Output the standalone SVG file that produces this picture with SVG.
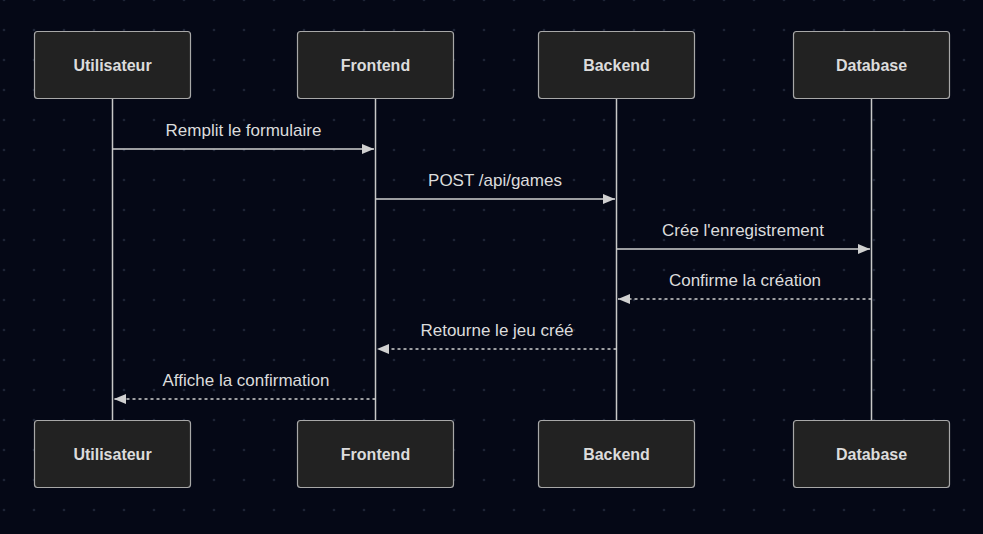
<svg xmlns="http://www.w3.org/2000/svg" width="983" height="534" viewBox="0 0 983 534">
<defs>
<pattern id="dots" x="0" y="0" width="30" height="30" patternUnits="userSpaceOnUse">
<circle cx="4" cy="0" r="1.3" fill="#1e2436"/>
<circle cx="4" cy="30" r="1.3" fill="#1e2436"/>
</pattern>
<marker id="arr" viewBox="0 0 12 10" refX="12" refY="5" markerWidth="12" markerHeight="10" markerUnits="userSpaceOnUse" orient="auto">
<path d="M0,0 L12,5 L0,10 z" fill="#d0d0d0"/>
</marker>
<style>
.actor rect{fill:#222222;stroke:#a8a8a8;stroke-width:1.2}
.actor text{font-family:"Liberation Sans",Arial,sans-serif;font-size:16px;font-weight:bold;fill:#dcdcdc;text-anchor:middle;dominant-baseline:central}
.life{stroke:#c8c8c8;stroke-width:1.5}
.msg{stroke:#d0d0d0;stroke-width:1.5;fill:none;marker-end:url(#arr)}
.dash{stroke-dasharray:3,3}
.lbl{font-family:"Liberation Sans",Arial,sans-serif;font-size:17px;fill:#dcdcdc;text-anchor:middle}
</style>
</defs>
<rect width="983" height="534" fill="#050816"/>
<rect width="983" height="534" fill="url(#dots)"/>
<g id="lifelines">
<line class="life" x1="112.5" y1="99" x2="112.5" y2="420"/>
<line class="life" x1="375.5" y1="99" x2="375.5" y2="420"/>
<line class="life" x1="616.5" y1="99" x2="616.5" y2="420"/>
<line class="life" x1="871.5" y1="99" x2="871.5" y2="420"/>
</g>
<g id="actor-utilisateur-top" class="actor"><rect x="34.5" y="31.5" width="156" height="67" rx="3"/><text x="112.5" y="65">Utilisateur</text></g>
<g id="actor-frontend-top" class="actor"><rect x="297.5" y="31.5" width="156" height="67" rx="3"/><text x="375.5" y="65">Frontend</text></g>
<g id="actor-backend-top" class="actor"><rect x="538.5" y="31.5" width="156" height="67" rx="3"/><text x="616.5" y="65">Backend</text></g>
<g id="actor-database-top" class="actor"><rect x="793.5" y="31.5" width="156" height="67" rx="3"/><text x="871.5" y="65">Database</text></g>
<g id="actor-utilisateur-bottom" class="actor"><rect x="34.5" y="420.5" width="156" height="67" rx="3"/><text x="112.5" y="454">Utilisateur</text></g>
<g id="actor-frontend-bottom" class="actor"><rect x="297.5" y="420.5" width="156" height="67" rx="3"/><text x="375.5" y="454">Frontend</text></g>
<g id="actor-backend-bottom" class="actor"><rect x="538.5" y="420.5" width="156" height="67" rx="3"/><text x="616.5" y="454">Backend</text></g>
<g id="actor-database-bottom" class="actor"><rect x="793.5" y="420.5" width="156" height="67" rx="3"/><text x="871.5" y="454">Database</text></g>
<g id="connectors">
<line class="msg" x1="112.5" y1="149" x2="374" y2="149"/>
<text class="lbl" x="243.5" y="136">Remplit le formulaire</text>
<line class="msg" x1="375.5" y1="199" x2="615" y2="199"/>
<text class="lbl" x="495" y="186">POST /api/games</text>
<line class="msg" x1="616.5" y1="249" x2="870" y2="249"/>
<text class="lbl" x="743" y="236">Crée l'enregistrement</text>
<line class="msg dash" x1="871.5" y1="299" x2="618" y2="299"/>
<text class="lbl" x="745" y="286">Confirme la création</text>
<line class="msg dash" x1="616.5" y1="349" x2="377" y2="349"/>
<text class="lbl" x="497" y="336">Retourne le jeu créé</text>
<line class="msg dash" x1="375.5" y1="399" x2="114" y2="399"/>
<text class="lbl" x="246" y="386">Affiche la confirmation</text>
</g>
</svg>
